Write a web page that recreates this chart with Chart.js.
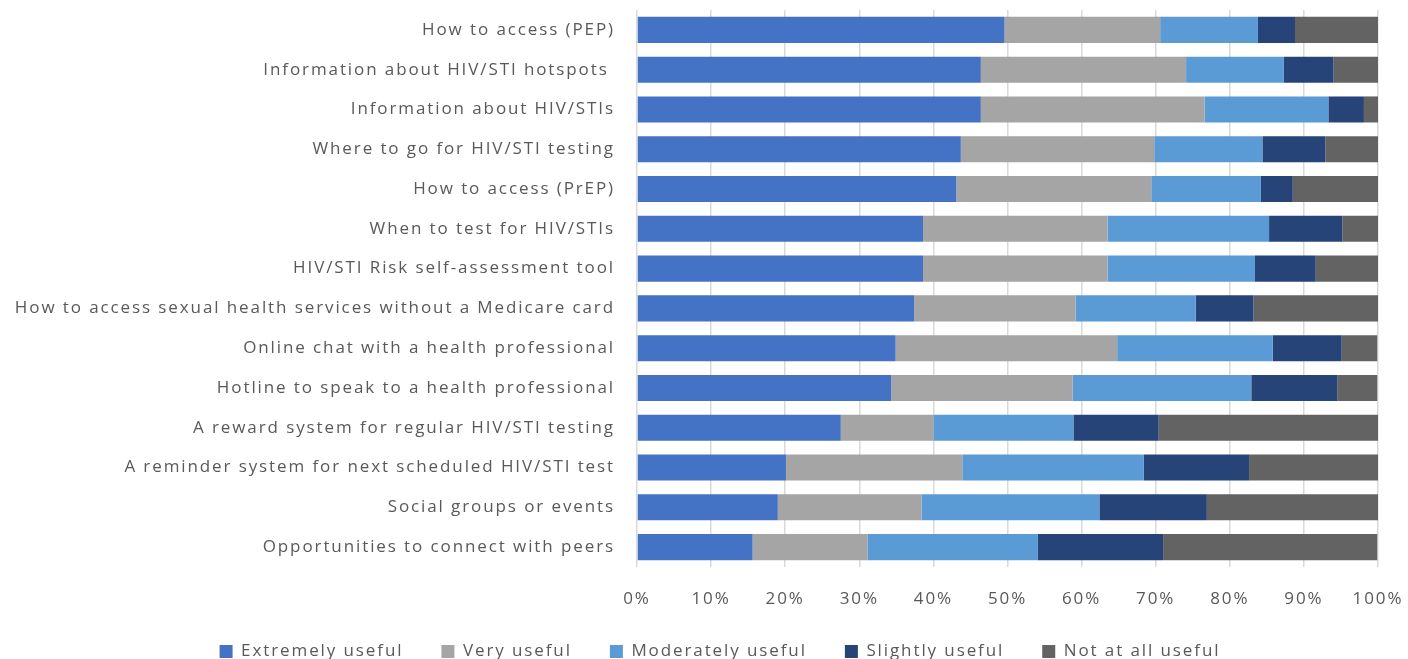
<!DOCTYPE html>
<html>
<head>
<meta charset="utf-8">
<script src="https://cdn.jsdelivr.net/npm/chart.js@4.4.1/dist/chart.umd.min.js"></script>
<style>
  html, body { margin: 0; padding: 0; background: #fff; overflow: hidden; }
  #wrap { width: 1408px; height: 670px; position: relative; }
</style>
</head>
<body>
<div id="wrap"><canvas id="usefulChart"></canvas></div>
<script>
var categories = [
  "How to access (PEP)",
  "Information about HIV/STI hotspots ",
  "Information about HIV/STIs",
  "Where to go for HIV/STI testing",
  "How to access (PrEP)",
  "When to test for HIV/STIs",
  "HIV/STI Risk self-assessment tool",
  "How to access sexual health services without a Medicare card",
  "Online chat with a health professional",
  "Hotline to speak to a health professional",
  "A reward system for regular HIV/STI testing",
  "A reminder system for next scheduled HIV/STI test",
  "Social groups or events",
  "Opportunities to connect with peers"
];

var extremely = [49.6, 46.4, 46.4, 43.7, 43.1, 38.6, 38.6, 37.4, 34.9, 34.3, 27.5, 20.1, 19.0, 15.6];
var very      = [21.0, 27.7, 30.2, 26.1, 26.3, 24.9, 24.9, 21.8, 29.9, 24.5, 12.5, 23.8, 19.4, 15.5];
var moderate  = [13.2, 13.2, 16.7, 14.6, 14.8, 21.8, 19.9, 16.2, 21.0, 24.1, 18.9, 24.5, 24.0, 23.0];
var slightly  = [5.0, 6.7, 4.8, 8.5, 4.3, 9.9, 8.2, 7.8, 9.3, 11.6, 11.5, 14.2, 14.5, 16.9];
var notAtAll  = [11.2, 6.1, 2.0, 7.1, 11.6, 4.8, 8.5, 16.8, 4.8, 5.4, 29.6, 17.4, 23.1, 28.9];

var ctx = document.getElementById("usefulChart");

// the original text is set quite loosely, so widen every label a bit
var spacing = {
  id: 'spacing',
  beforeLayout: function (chart) { chart.ctx.letterSpacing = '1.9px'; },
  beforeDraw: function (chart) { chart.ctx.letterSpacing = '1.9px'; }
};

// legend sits a little right of the canvas centre in the original
var legendShift = {
  id: 'legendShift',
  afterLayout: function (chart) {
    chart.legend.left += 27;
    chart.legend.right += 27;
  }
};

function series(label, values, color) {
  return {
    label: label,
    data: values,
    backgroundColor: color,
    borderWidth: 0,
    barPercentage: 0.655,
    categoryPercentage: 1.0
  };
}

var chart = new Chart(ctx, {
  type: 'bar',
  data: {
    labels: categories,
    datasets: [
      series("Extremely useful", extremely, "#4472c4"),
      series("Very useful", very, "#a5a5a5"),
      series("Moderately useful", moderate, "#5b9bd5"),
      series("Slightly useful", slightly, "#264478"),
      series("Not at all useful", notAtAll, "#636363")
    ]
  },
  plugins: [spacing, legendShift],
  options: {
    indexAxis: 'y',
    responsive: true,
    maintainAspectRatio: false,
    animation: false,
    layout: { padding: { top: 10, right: 30, left: 8, bottom: 0 } },
    scales: {
      x: {
        stacked: true,
        min: 0,
        max: 100,
        ticks: {
          stepSize: 10,
          color: "#595959",
          padding: 22,
          font: { family: "Open Sans", size: 17 },
          callback: function (v) { return v + "%"; }
        },
        grid: { color: "#d9d9d9", lineWidth: 1.5, drawTicks: false },
        border: { display: false },
        afterFit: function (scale) {
          scale.height = 38;
          scale.paddingLeft = 0;
          scale.paddingRight = 0;
        }
      },
      y: {
        stacked: true,
        ticks: {
          color: "#595959",
          padding: 22,
          autoSkip: false,
          font: { family: "Open Sans", size: 17 }
        },
        grid: { display: false, drawTicks: false },
        border: { display: false },
        afterFit: function (scale) {
          scale.width = 629;
          scale.paddingTop = 0;
          scale.paddingBottom = 0;
        }
      }
    },
    plugins: {
      legend: {
        position: 'bottom',
        labels: {
          boxWidth: 13,
          boxHeight: 13,
          padding: 38,
          color: "#595959",
          font: { family: "Open Sans", size: 17 }
        }
      },
      tooltip: { enabled: false }
    }
  }
});
</script>
</body>
</html>
